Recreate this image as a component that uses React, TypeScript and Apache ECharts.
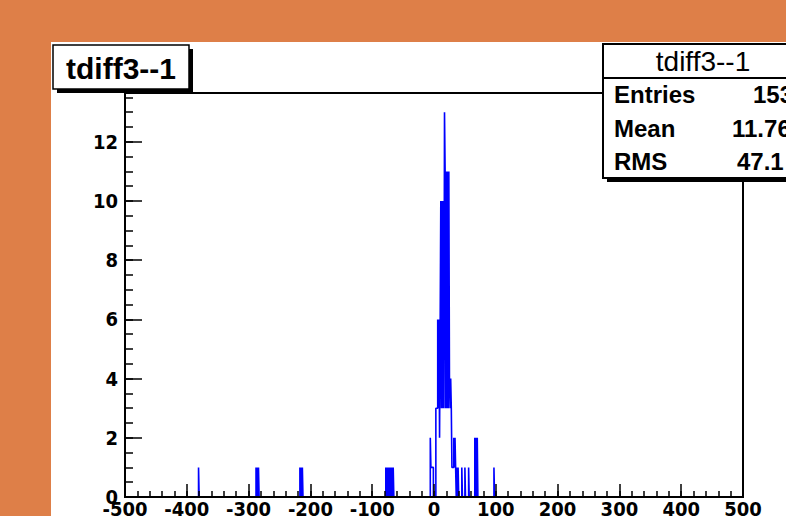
import React, { useEffect, useRef } from "react";
import * as echarts from "echarts";

// Histogram definition (ROOT-like TH1, 1000 bins from -500 to 500)
const X_MIN = -500;
const X_MAX = 500;
const BIN_WIDTH = 1;
const Y_MAX = 13.65;

// low edges of non-empty bins and their contents
const binLowEdges = [
  -381, -288, -286, -284, -217, -215, -213,
  -78, -76, -74, -72, -70, -68, -66,
  -6, -5, -4, -3, -2,
  3, 4, 5,
  6, 7, 8, 9, 10,
  11, 12, 13, 14, 15, 16,
  17,
  18, 19, 20, 21, 22, 23, 24,
  25, 26, 27, 28,
  29, 30, 31,
  32, 33, 34,
  35, 37, 39,
  45, 50, 56,
  66, 68, 70,
  97,
];
const binCounts = [
  1, 1, 1, 1, 1, 1, 1,
  1, 1, 1, 1, 1, 1, 1,
  2, 1, 1, 1, 1,
  3, 3, 3,
  6, 3, 6, 2, 6,
  10, 3, 10, 3, 10, 3,
  13,
  11, 3, 11, 3, 11, 3, 11,
  4, 3, 4, 3,
  1, 1, 1,
  2, 1, 2,
  1, 1, 1,
  1, 1, 1,
  2, 2, 2,
  1,
];

// Title / stats text
const histTitle = "tdiff3--1";
const statNames = ["Entries", "Mean", "RMS"];
const statValues = ["153", "11.76", "47.1"];

function buildStepPoints(): [number, number][] {
  const nBins = Math.round((X_MAX - X_MIN) / BIN_WIDTH);
  const counts = new Array(nBins).fill(0);
  binLowEdges.forEach((lo, i) => {
    const idx = Math.round((lo - X_MIN) / BIN_WIDTH);
    if (idx >= 0 && idx < nBins) counts[idx] = binCounts[i];
  });
  const pts: [number, number][] = [[X_MIN, 0]];
  let prev = 0;
  for (let i = 0; i < nBins; i++) {
    const lo = X_MIN + i * BIN_WIDTH;
    const c = counts[i];
    if (c !== prev) {
      pts.push([lo, prev]);
      pts.push([lo, c]);
      prev = c;
    }
  }
  pts.push([X_MAX, prev]);
  return pts;
}

const FONT = '"Liberation Sans", Arial, sans-serif';
const NARROW = '"Liberation Sans Narrow", "DejaVu Sans Condensed", "Liberation Sans", sans-serif';

export default function App() {
  const ref = useRef<HTMLDivElement>(null);
  useEffect(() => {
    if (!ref.current) return;
    const chart = echarts.init(ref.current, undefined, { renderer: "svg" });
    const labelStyle = {
      color: "#000",
      fontSize: 20,
      fontWeight: "bold" as const,
      fontFamily: NARROW,
    };
    const statRowsY = [94, 128, 161];
    const valueX = [753, 732, 737];
    const tickStyle = { color: "#000", width: 1.5 };
    const option: any = {
      animation: false,
      backgroundColor: "#DE7F48",
      grid: {
        left: 125,
        right: 43,
        top: 93,
        bottom: 19,
        show: true,
        borderColor: "#000",
        borderWidth: 2,
        backgroundColor: "transparent",
        outerBoundsMode: "none",
        containLabel: false,
      },
      xAxis: [
        {
          type: "value",
          min: X_MIN,
          max: X_MAX,
          interval: 100,
          z: 5,
          axisLine: { show: true, onZero: false, lineStyle: { color: "#000", width: 2 } },
          axisTick: { show: true, inside: true, length: 13, lineStyle: tickStyle },
          splitLine: { show: false },
          axisLabel: { ...labelStyle, margin: 2, showMinLabel: true, showMaxLabel: true },
        },
        {
          type: "value",
          min: X_MIN,
          max: X_MAX,
          interval: 20,
          position: "bottom",
          z: 5,
          axisLine: { show: false, onZero: false },
          axisTick: { show: true, inside: true, length: 6, lineStyle: tickStyle },
          splitLine: { show: false },
          axisLabel: { show: false },
        },
      ],
      yAxis: [
        {
          type: "value",
          min: 0,
          max: Y_MAX,
          interval: 2,
          position: "left",
          z: 5,
          axisLine: { show: true, onZero: false, lineStyle: { color: "#000", width: 2 } },
          axisTick: { show: true, inside: true, length: 17, lineStyle: tickStyle },
          splitLine: { show: false },
          axisLabel: { ...labelStyle, margin: 7, showMaxLabel: false },
        },
        {
          type: "value",
          min: 0,
          max: Y_MAX,
          interval: 0.5,
          position: "left",
          z: 5,
          axisLine: { show: false, onZero: false },
          axisTick: { show: true, inside: true, length: 8, lineStyle: tickStyle },
          splitLine: { show: false },
          axisLabel: { show: false },
        },
      ],
      series: [
        {
          type: "line",
          xAxisIndex: 0,
          yAxisIndex: 0,
          data: buildStepPoints(),
          showSymbol: false,
          symbol: "none",
          lineStyle: { color: "#0000FF", width: 1.6 },
          z: 2,
          clip: true,
        },
      ],
      graphic: [
        // white pad
        {
          type: "rect",
          z: -10,
          shape: { x: 51, y: 42, width: 740, height: 480 },
          style: { fill: "#fff" },
          silent: true,
        },
        // title box
        {
          type: "rect",
          z: 50,
          shape: { x: 57, y: 49, width: 136, height: 44 },
          style: { fill: "#000" },
        },
        {
          type: "rect",
          z: 51,
          shape: { x: 53, y: 45, width: 136, height: 44 },
          style: { fill: "#fff", stroke: "#000", lineWidth: 1.5 },
        },
        {
          type: "text",
          z: 52,
          x: 121,
          y: 68,
          style: {
            text: histTitle,
            font: `bold 30px ${FONT}`,
            fill: "#000",
            textAlign: "center",
            textVerticalAlign: "middle",
          },
        },
        // stats box
        {
          type: "rect",
          z: 50,
          shape: { x: 607, y: 48, width: 200, height: 134 },
          style: { fill: "#000" },
        },
        {
          type: "rect",
          z: 51,
          shape: { x: 603, y: 44, width: 200, height: 134 },
          style: { fill: "#fff", stroke: "#000", lineWidth: 2 },
        },
        {
          type: "line",
          z: 52,
          shape: { x1: 603, y1: 78, x2: 803, y2: 78 },
          style: { stroke: "#000", lineWidth: 2 },
        },
        {
          type: "text",
          z: 52,
          x: 703,
          y: 61,
          style: {
            text: histTitle,
            font: `28px ${FONT}`,
            fill: "#000",
            textAlign: "center",
            textVerticalAlign: "middle",
          },
        },
        ...statNames.map((name, i) => ({
          type: "text",
          z: 52,
          x: 614,
          y: statRowsY[i],
          style: {
            text: name,
            font: `bold 24px ${FONT}`,
            fill: "#000",
            textAlign: "left",
            textVerticalAlign: "middle",
          },
        })),
        ...statValues.map((val, i) => ({
          type: "text",
          z: 52,
          x: valueX[i],
          y: statRowsY[i],
          style: {
            text: val,
            font: `bold 24px ${FONT}`,
            fill: "#000",
            textAlign: "left",
            textVerticalAlign: "middle",
          },
        })),
      ],
    };
    chart.setOption(option);
    return () => chart.dispose();
  }, []);
  return (
    <div
      ref={ref}
      style={{ position: "fixed", left: 0, top: 0, width: 786, height: 516 }}
    />
  );
}
